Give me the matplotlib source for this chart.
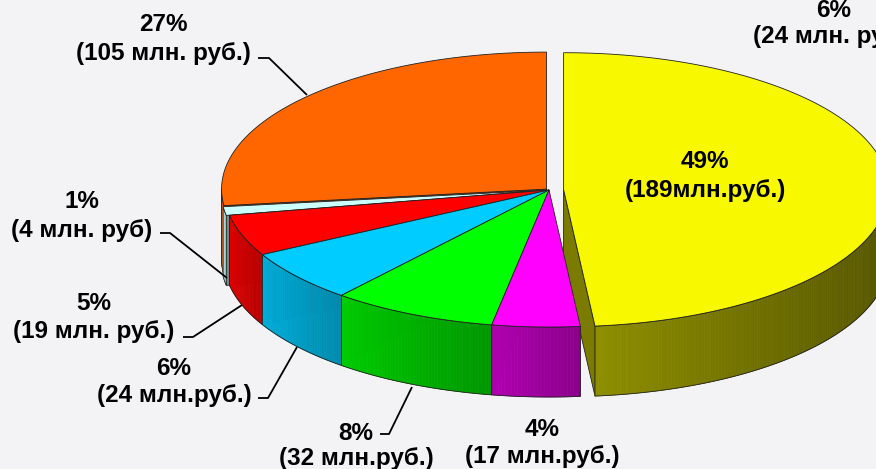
import numpy as np
import matplotlib
matplotlib.use('Agg')
import matplotlib.pyplot as plt
from matplotlib.patches import Polygon
from matplotlib.colors import to_rgb

# ---- data (clockwise from 12 o'clock) ----
values = [189, 17, 32, 24, 19, 4, 105]
pct_labels = ['49%', '4%', '8%', '6%', '5%', '1%', '27%']
amount_labels = ['(189млн.руб.)', '(17 млн.руб.)', '(32 млн.руб.)', '(24 млн.руб.)',
                 '(19 млн. руб.)', '(4 млн. руб)', '(105 млн. руб.)']
extra_pct = '6%'
extra_amount = '(24 млн. руб.)'

# ---- style / layout ----
colors = ['#f8f800', '#ff00ff', '#00ff00', '#00ccff', '#ff0000', '#ccffff', '#ff6600']
explode = [0.045, 0, 0, 0, 0, 0.01, 0.01]
W, H = 876, 469
cx, cy, a, b, depth = 549, 190, 325, 137, 70

# label anchor: (center x, baseline line1, baseline line2)
label_pos = [(705, 168, 197), (542, 436, 463), (356, 440, 465), (174, 375, 402),
             (94, 310, 338), (82, 208, 237), (163, 31, 60)]
extra_pos = (834, 17, 43)
leaders = [None, None,
           [(380, 434), (389, 434), (412, 387)],
           [(258, 398), (268, 398), (297, 347)],
           [(183, 337), (193, 337), (242, 305)],
           [(160, 233), (170, 233), (227, 278)],
           [(258, 58), (269, 58), (307, 95)]]

fig = plt.figure(figsize=(W / 100, H / 100), dpi=100)
fig.patch.set_facecolor('#f3f3f6')
ax = fig.add_axes([0, 0, 1, 1])
ax.set_xlim(0, W)
ax.set_ylim(H, 0)
ax.axis('off')
ax.set_facecolor('#f3f3f6')

total = float(sum(values))
angles = np.concatenate([[0.0], np.cumsum(values)]) / total * 2 * np.pi
edge = '#222222'


def pt(th, r, ox, oy, z=0.0):
    return (cx + ox + a * r * np.sin(th), cy + oy - b * r * np.cos(th) + z)


def shade(c, f):
    r, g, bb = to_rgb(c)
    return (min(r * f, 1), min(g * f, 1), min(bb * f, 1))


order = sorted(range(len(values)),
               key=lambda i: -np.cos((angles[i] + angles[i + 1]) / 2))

for i in order:
    th1, th2 = angles[i], angles[i + 1]
    mid = (th1 + th2) / 2
    ox = explode[i] * a * np.sin(mid)
    oy = -explode[i] * b * np.cos(mid)
    base = colors[i]
    ymul = 0.9 if i == 0 else 1.0
    # radial walls
    for th, vis in ((th1, np.sin(th1) < -1e-9), (th2, np.sin(th2) > 1e-9)):
        if vis:
            quad = [pt(th, 0, ox, oy), pt(th, 1, ox, oy),
                    pt(th, 1, ox, oy, depth), pt(th, 0, ox, oy, depth)]
            ax.add_patch(Polygon(quad, closed=True, facecolor=shade(base, 0.55 * ymul),
                                 edgecolor=edge, lw=0.6, zorder=2))
    # outer wall (front part)
    lo, hi = max(th1, np.pi / 2), min(th2, 3 * np.pi / 2)
    if lo < hi:
        n = max(int((hi - lo) / 0.01), 2)
        ts = np.linspace(lo, hi, n + 1)
        for k in range(n):
            t0, t1 = ts[k], ts[k + 1]
            tm = (t0 + t1) / 2
            frac = (hi - tm) / (hi - lo)
            f = (0.66 - 0.22 * np.sin(tm)) * (1 - 0.15 * frac) * ymul
            c = shade(base, f)
            quad = [pt(t0, 1, ox, oy), pt(t1, 1, ox, oy),
                    pt(t1, 1, ox, oy, depth), pt(t0, 1, ox, oy, depth)]
            ax.add_patch(Polygon(quad, closed=True, facecolor=c, edgecolor=c,
                                 lw=0.5, zorder=2))
        top_arc = [pt(t, 1, ox, oy) for t in ts]
        bot_arc = [pt(t, 1, ox, oy, depth) for t in ts[::-1]]
        ax.add_patch(Polygon(top_arc + bot_arc, closed=True, facecolor='none',
                             edgecolor=edge, lw=0.6, zorder=2))
    # top face
    ts = np.linspace(th1, th2, max(int((th2 - th1) / 0.01), 2) + 1)
    poly = [pt(0, 0, ox, oy)] + [pt(t, 1, ox, oy) for t in ts]
    ax.add_patch(Polygon(poly, closed=True, facecolor=base, edgecolor=edge,
                         lw=0.6, zorder=2))

font = dict(family=['Liberation Sans', 'DejaVu Sans'], weight='bold',
            fontsize=17.5, color='#000000', zorder=5)

for i in range(len(values)):
    x, b1, b2 = label_pos[i]
    ax.text(x, b1, pct_labels[i], ha='center', va='baseline', **font)
    ax.text(x, b2, amount_labels[i], ha='center', va='baseline', **font)
    if leaders[i] is not None:
        xs, ys = zip(*leaders[i])
        ax.plot(xs, ys, color='black', lw=1.3, zorder=4, solid_capstyle='butt')

ax.text(extra_pos[0], extra_pos[1], extra_pct, ha='center', va='baseline', **font)
ax.text(extra_pos[0], extra_pos[2], extra_amount, ha='center', va='baseline', **font)

fig.savefig('out.png', dpi=100, facecolor=fig.get_facecolor())
